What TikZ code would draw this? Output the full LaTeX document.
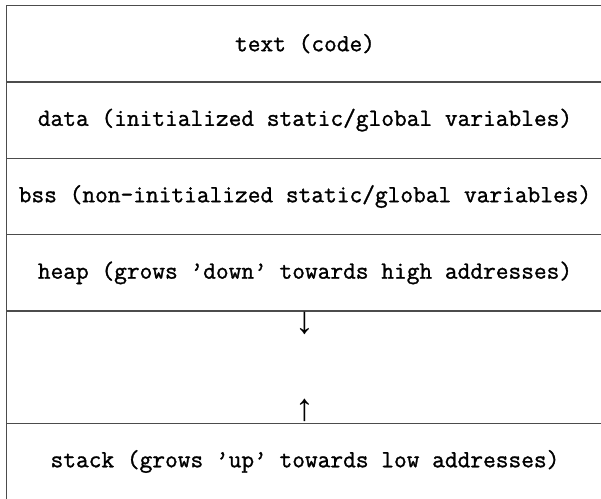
\documentclass[tikz,border=0pt]{standalone}
\usepackage{fontspec}
\setmonofont{Latin Modern Mono}[BoldFont=Latin Modern Mono,BoldFeatures={FakeBold=1.2}]
\newfontfamily\arrowfont{Liberation Mono}
\usepackage{tikz}
\usetikzlibrary{positioning}

\tikzset{
  segment/.style={draw=black!70,line width=1.3pt,rectangle,minimum width=597pt,
    minimum height=76.4pt,inner sep=0pt,outer sep=0pt,
    font=\ttfamily\bfseries\fontsize{24.7}{27}\selectfont},
  growth/.style={inner sep=0pt,outer sep=0pt,font=\arrowfont\fontsize{38}{38}\selectfont}
}

\begin{document}
\begin{tikzpicture}[x=1pt,y=-1pt]
\useasboundingbox (0,0) rectangle (601,498);
\clip (0,0) rectangle (601,498);
\node[segment,anchor=north west] (text) at (6.5,5.5) {text (code)};
\node[segment,below=0pt of text] (data) {data (initialized static/global variables)};
\node[segment,below=0pt of data] (bss) {bss (non-initialized static/global variables)};
\node[segment,below=0pt of bss] (heap) {heap (grows ’down’ towards high addresses)};
\node[segment,below=0pt of heap,minimum height=112.2pt] (free) {};
\node[segment,below=0pt of free] (stack) {stack (grows ’up’ towards low addresses)};
\node[growth,below=1pt of free.north] (down) {↓};
\node[growth,above=2pt of free.south] (up) {↑};
\end{tikzpicture}
\end{document}
